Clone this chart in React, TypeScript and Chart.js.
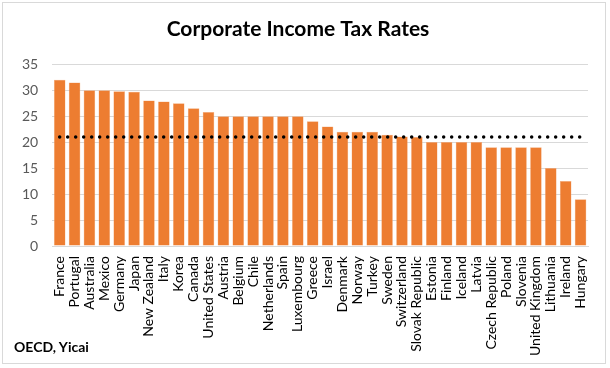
import React, { useEffect, useRef } from "react";
import { Chart, registerables } from "chart.js";

Chart.register(...registerables);

const countries = [
  "France", "Portugal", "Australia", "Mexico", "Germany", "Japan", "New Zealand", "Italy", "Korea", "Canada",
  "United States", "Austria", "Belgium", "Chile", "Netherlands", "Spain", "Luxembourg", "Greece", "Israel", "Denmark",
  "Norway", "Turkey", "Sweden", "Switzerland", "Slovak Republic", "Estonia", "Finland", "Iceland", "Latvia", "Czech Republic",
  "Poland", "Slovenia", "United Kingdom", "Lithuania", "Ireland", "Hungary",
];
const taxRates = [
  32, 31.5, 30, 30, 29.8, 29.7, 28, 27.8, 27.5, 26.5,
  25.8, 25, 25, 25, 25, 25, 25, 24, 23, 22,
  22, 22, 21.4, 21.1, 21, 20, 20, 20, 20, 19,
  19, 19, 19, 15, 12.5, 9,
];
const averageRate = 21;
const yTicks = [0, 5, 10, 15, 20, 25, 30, 35];

const FONT = "Lato, 'Open Sans', sans-serif";

export default function App() {
  const ref = useRef<HTMLCanvasElement>(null);
  useEffect(() => {
    if (!ref.current) return;
    const chart = new Chart(ref.current, {
      type: "bar",
      data: {
        labels: countries,
        datasets: [
          {
            type: "line",
            label: "Average",
            data: countries.map(() => averageRate),
            borderColor: "#000000",
            borderWidth: 3.5,
            borderDash: [0, 8],
            borderCapStyle: "round",
            pointRadius: 0,
            fill: false,
            order: 0,
          } as any,
          {
            type: "bar",
            label: "Tax rate",
            data: taxRates,
            backgroundColor: "#ED7D31",
            borderColor: "#F4B183",
            borderWidth: 0.5,
            barPercentage: 0.78,
            categoryPercentage: 1,
            order: 1,
          },
        ],
      },
      options: {
        animation: false,
        responsive: false,
        maintainAspectRatio: false,
        layout: { padding: { left: 8, right: 22, top: 4, bottom: 10 } },
        plugins: {
          legend: { display: false },
          tooltip: { enabled: false },
          title: {
            display: true,
            text: "Corporate Income Tax Rates",
            color: "#000000",
            font: { family: FONT, size: 21, weight: "bold" },
            padding: { top: 13, bottom: 22 },
          },
        },
        scales: {
          x: {
            grid: { display: false },
            border: { display: true, color: "#d9d9d9" },
            ticks: {
              autoSkip: false,
              maxRotation: 90,
              minRotation: 90,
              color: "#000000",
              font: { family: FONT, size: 14 },
              padding: 2,
            },
          },
          y: {
            min: 0,
            max: 35,
            afterBuildTicks: (axis: any) => {
              axis.ticks = yTicks.map((v) => ({ value: v }));
            },
            grid: { color: "#d9d9d9", lineWidth: 1, drawTicks: false },
            border: { display: false },
            ticks: {
              color: "#595959",
              font: { family: FONT, size: 14 },
              padding: 14,
            },
          },
        },
      },
    });
    return () => chart.destroy();
  }, []);

  return (
    <div style={{ position: "fixed", left: 0, top: 0, width: 610, height: 368, background: "#fff" }}>
      <canvas ref={ref} width={610} height={368} style={{ position: "absolute", left: 0, top: 0 }} />
      <div
        style={{
          position: "absolute",
          left: 2,
          top: 2,
          width: 604,
          height: 362,
          border: "1px solid #d9d9d9",
          boxSizing: "border-box",
          pointerEvents: "none",
        }}
      />
      <div
        style={{
          position: "absolute",
          left: 14,
          top: 338,
          fontFamily: FONT,
          fontWeight: "bold",
          fontSize: 14,
          color: "#000",
        }}
      >
        OECD, Yicai
      </div>
    </div>
  );
}
